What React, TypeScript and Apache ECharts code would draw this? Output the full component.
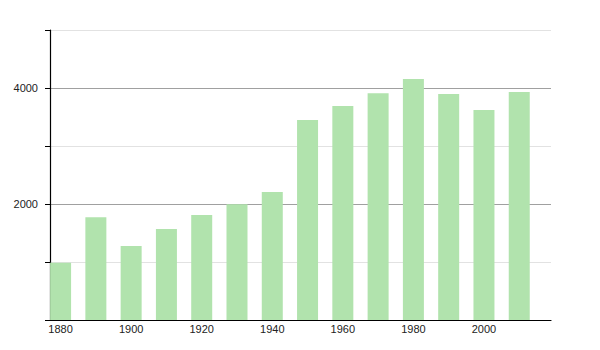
import React, { useEffect, useRef } from "react";
import * as echarts from "echarts";

const years = [1880, 1890, 1900, 1910, 1920, 1930, 1940, 1950, 1960, 1970, 1980, 1990, 2000, 2010];
const population = [985, 1771, 1276, 1569, 1810, 1994, 2207, 3448, 3690, 3908, 4155, 3897, 3621, 3931];
const xTickLabels = [1880, 1900, 1920, 1940, 1960, 1980, 2000];
const yTickLabels = [2000, 4000];

export default function App() {
  const ref = useRef<HTMLDivElement>(null);
  useEffect(() => {
    if (!ref.current) return;
    const chart = echarts.init(ref.current, null, { renderer: "svg" });
    const font = "'Liberation Sans', Arial, sans-serif";
    chart.setOption({
      animation: false,
      grid: { left: 50, right: 49, top: 30, bottom: 30, containLabel: false },
      xAxis: {
        type: "value",
        min: 1877,
        max: 2019,
        splitLine: { show: false },
        axisLine: { show: true, onZero: false, lineStyle: { color: "#000", width: 1.2 } },
        axisTick: { show: false },
        axisLabel: {
          customValues: xTickLabels,
          color: "#222",
          fontSize: 11,
          fontFamily: font,
          margin: 3,
          formatter: (v: number) => String(v),
        },
      },
      yAxis: {
        type: "value",
        min: 0,
        max: 5000,
        interval: 1000,
        axisLine: { show: true, lineStyle: { color: "#000", width: 1.2 } },
        axisTick: { show: true, length: 5, lineStyle: { color: "#000" } },
        axisLabel: {
          customValues: yTickLabels,
          color: "#222",
          fontSize: 11,
          fontFamily: font,
          margin: 12,
          formatter: (v: number) => String(v),
        },
        splitLine: {
          show: true,
          lineStyle: { color: ["#a0a0a0", "#e2e2e2"], width: 1 },
        },
      },
      series: [
        {
          type: "bar",
          data: years.map((y, i) => [y, population[i]]),
          barWidth: 21,
          itemStyle: { color: "#b1e3ad" },
          z: 3,
        },
      ],
    });
    return () => chart.dispose();
  }, []);
  return <div ref={ref} style={{ width: 600, height: 350, position: "absolute", left: 0, top: 0 }} />;
}
